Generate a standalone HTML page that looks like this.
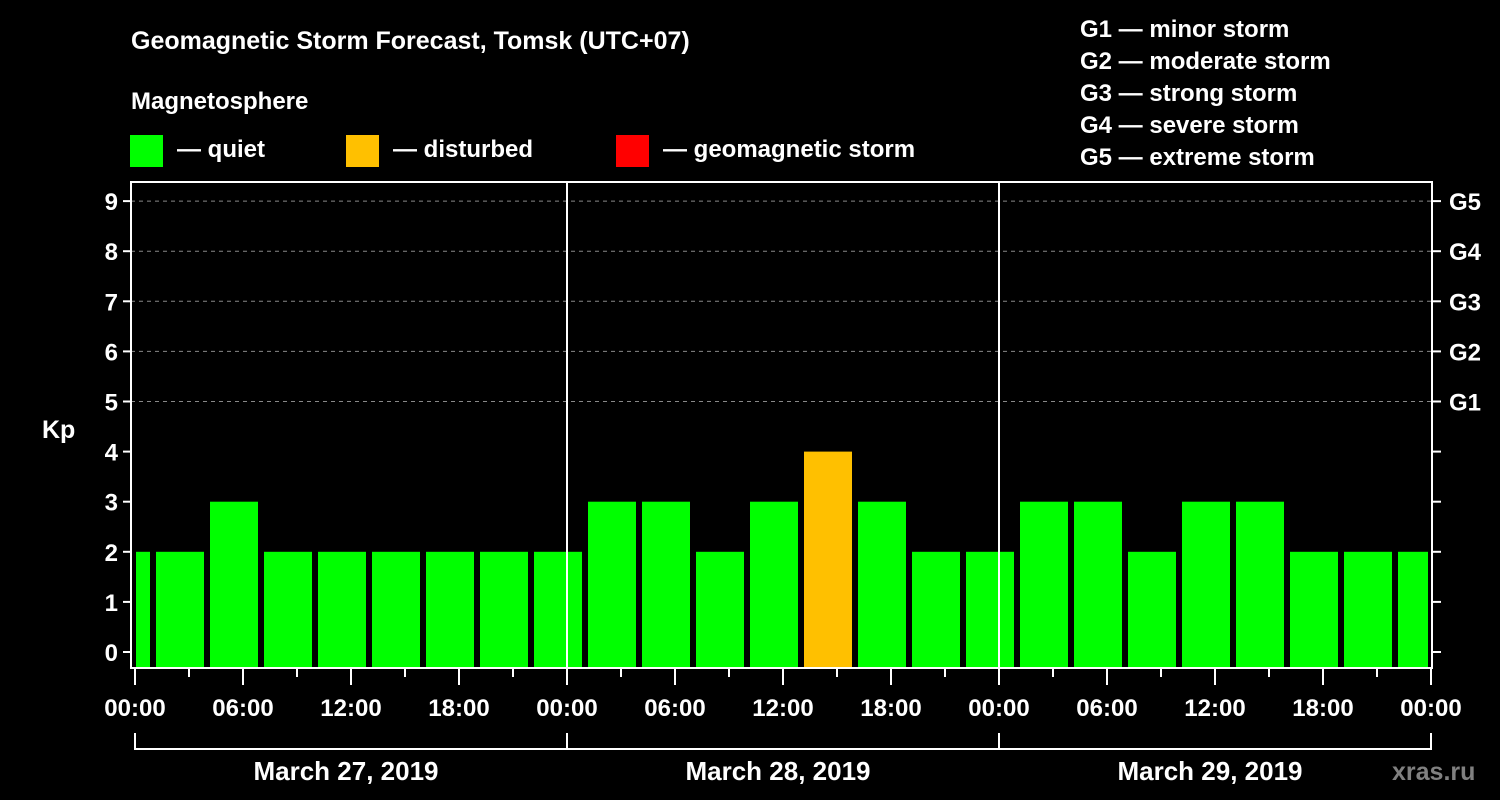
<!DOCTYPE html>
<html><head><meta charset="utf-8"><style>
body{margin:0;background:#000;}
svg{display:block;font-family:"Liberation Sans",Arial,sans-serif;font-weight:bold;}
</style></head><body>
<svg id="chart" width="1500" height="800" viewBox="0 0 1500 800">
<rect width="1500" height="800" fill="#000"/>
<text x="131" y="49" fill="#fff" font-size="25">Geomagnetic Storm Forecast, Tomsk (UTC+07)</text>
<text x="131" y="109" fill="#fff" font-size="24">Magnetosphere</text>
<g><rect x="130" y="135" width="33" height="32" fill="#00ff00"/><text x="177" y="157" fill="#fff" font-size="24">— quiet</text></g>
<g><rect x="346" y="135" width="33" height="32" fill="#ffc000"/><text x="393" y="157" fill="#fff" font-size="24">— disturbed</text></g>
<g><rect x="616" y="135" width="33" height="32" fill="#ff0000"/><text x="663" y="157" fill="#fff" font-size="24">— geomagnetic storm</text></g>
<g fill="#fff" font-size="24">
<text x="1080" y="37">G1 — minor storm</text>
<text x="1080" y="69">G2 — moderate storm</text>
<text x="1080" y="101">G3 — strong storm</text>
<text x="1080" y="133">G4 — severe storm</text>
<text x="1080" y="165">G5 — extreme storm</text>
</g>
<text x="42" y="438" fill="#fff" font-size="25">Kp</text>
<g id="grid"></g><g id="bars"></g><g id="axes"></g>
<text x="1392" y="780" fill="#808080" font-size="25">xras.ru</text>
</svg>
<script>
const kpValues=[2,2,3,2,2,2,2,2,2,3,3,2,3,4,3,2,2,3,3,2,3,3,2,2,2];
const yTicks=[0,1,2,3,4,5,6,7,8,9];
const gLabels=["G1","G2","G3","G4","G5"];
const timeLabels=["00:00","06:00","12:00","18:00","00:00","06:00","12:00","18:00","00:00","06:00","12:00","18:00","00:00"];
const dayLabels=["March 27, 2019","March 28, 2019","March 29, 2019"];
const NS="http://www.w3.org/2000/svg";
const L=131,R=1432,T=182,B=668;
const y=v=>652-v*50.1;
const x=h=>135+h*18;
function mk(p,tag,at){const e=document.createElementNS(NS,tag);for(const k in at)e.setAttribute(k,at[k]);p.appendChild(e);return e;}
const grid=document.getElementById('grid'),bars=document.getElementById('bars'),axes=document.getElementById('axes');
[5,6,7,8,9].forEach(v=>{const l=mk(grid,'line',{x1:L,x2:R,y1:y(v),y2:y(v),stroke:'#888','stroke-dasharray':'4,4','stroke-width':1});

});
kpValues.forEach((v,i)=>{const c=x(3*i-0.5);let x0=Math.max(c-24,136),x1=Math.min(c+24,1428);
const col=v>=5?'#ff0000':(v>=4?'#ffc000':'#00ff00');
const r=mk(bars,'rect',{x:x0,y:y(v),width:x1-x0,height:B-1-y(v),fill:col});

});
mk(axes,'rect',{x:L,y:T,width:R-L,height:B-T,fill:'none',stroke:'#fff','stroke-width':2});
[24,48].forEach(h=>{mk(axes,'line',{x1:x(h),x2:x(h),y1:T,y2:B,stroke:'#fff','stroke-width':2});});
yTicks.forEach(v=>{mk(axes,'line',{x1:L-8,x2:L,y1:y(v),y2:y(v),stroke:'#fff','stroke-width':2});
mk(axes,'line',{x1:R,x2:R+9,y1:y(v),y2:y(v),stroke:'#fff','stroke-width':2});
const t=mk(axes,'text',{x:L-13,y:y(v)+9,fill:'#fff','font-size':24,'text-anchor':'end'});t.textContent=v;

});
gLabels.forEach((g,i)=>{const t=mk(axes,'text',{x:1449,y:y(5+i)+9,fill:'#fff','font-size':24});t.textContent=g;

});
for(let h=0;h<=72;h+=3){mk(axes,'line',{x1:x(h),x2:x(h),y1:B,y2:B+(h%6===0?17:9),stroke:'#fff','stroke-width':2});}
timeLabels.forEach((s,i)=>{const t=mk(axes,'text',{x:x(6*i),y:716,fill:'#fff','font-size':24,'text-anchor':'middle'});t.textContent=s;

});
mk(axes,'path',{d:`M${x(0)} 733V749H${x(72)}V733`,fill:'none',stroke:'#fff','stroke-width':2});
[24,48].forEach(h=>mk(axes,'line',{x1:x(h),x2:x(h),y1:733,y2:749,stroke:'#fff','stroke-width':2}));
dayLabels.forEach((s,i)=>{const t=mk(axes,'text',{x:x(24*i+12)-5,y:780,fill:'#fff','font-size':26,'text-anchor':'middle'});t.textContent=s;

});
</script>
</body></html>
